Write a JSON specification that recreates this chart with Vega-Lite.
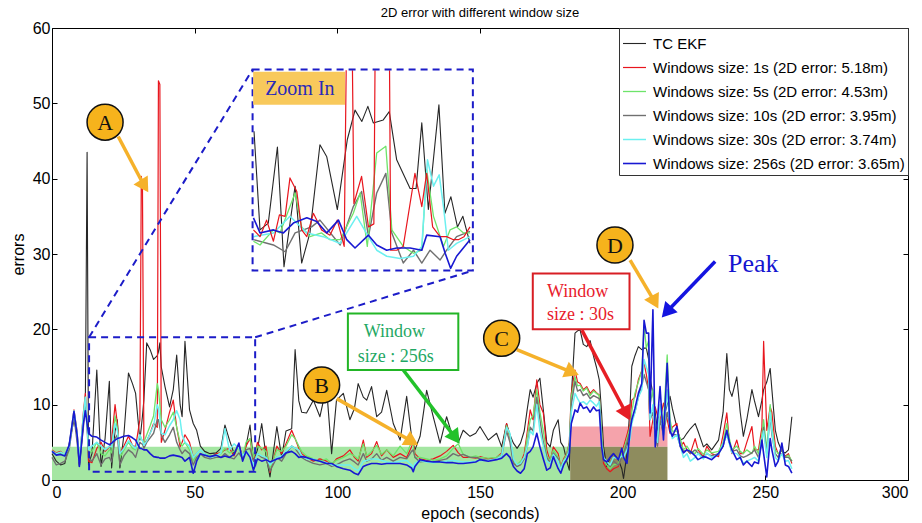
{
  "$schema": "https://vega.github.io/schema/vega-lite/v6.json",
  "width": 856,
  "height": 452,
  "autosize": {"type": "none"},
  "padding": {"left": 52, "top": 28, "right": 14, "bottom": 43},
  "background": "#ffffff",
  "title": {"text": "2D error with different window size", "fontSize": 13, "font": "Liberation Sans", "fontWeight": "normal", "offset": 0, "color": "#000"},
  "config": {
    "view": {"stroke": "#000", "strokeWidth": 1},
    "axis": {"labelFont": "Liberation Sans", "titleFont": "Liberation Sans", "labelFontSize": 16, "titleFontSize": 16, "titleFontWeight": "normal", "labelColor": "#000", "titleColor": "#000", "tickColor": "#000", "domain": false, "grid": false}
  },
  "datasets": {
    "main": [
      {"t":0,"ekf":3.5,"w1":4.0,"w5":3.9,"w10":3.0,"w30":3.8,"w256":3.8},
      {"t":1.5,"ekf":2.5,"w1":3.6,"w5":3.4,"w10":2.0,"w30":3.5,"w256":3.3},
      {"t":3,"ekf":2.0,"w1":3.8,"w5":3.6,"w10":2.2,"w30":3.7,"w256":3.4},
      {"t":4.5,"ekf":2.2,"w1":3.3,"w5":3.2,"w10":2.5,"w30":3.4,"w256":3.2},
      {"t":6,"ekf":4.8,"w1":4.5,"w5":4.2,"w10":4.0,"w30":4.4,"w256":4.6},
      {"t":7.7,"ekf":8.0,"w1":9.3,"w5":9.0,"w10":8.5,"w30":9.2,"w256":9.1},
      {"t":8.8,"ekf":6.0,"w1":6.5,"w5":6.0,"w10":5.0,"w30":6.2,"w256":6.0},
      {"t":9.6,"ekf":1.8,"w1":2.2,"w5":2.5,"w10":2.0,"w30":2.4,"w256":1.8},
      {"t":11,"ekf":7.5,"w1":9.0,"w5":8.5,"w10":7.0,"w30":8.5,"w256":7.5},
      {"t":11.7,"ekf":11.1,"w1":11.5,"w5":11.0,"w10":10.0,"w30":11.0,"w256":9.2},
      {"t":12.3,"ekf":43.5,"w1":8.0,"w5":7.5,"w10":7.0,"w30":7.5,"w256":7.5},
      {"t":12.8,"ekf":2.0,"w1":2.5,"w5":3.5,"w10":3.0,"w30":4.0,"w256":6.2},
      {"t":14,"ekf":3.5,"w1":2.3,"w5":3.8,"w10":2.5,"w30":4.5,"w256":5.8},
      {"t":15.7,"ekf":14.6,"w1":4.2,"w5":5.0,"w10":3.5,"w30":5.0,"w256":5.7},
      {"t":17.2,"ekf":1.8,"w1":5.0,"w5":3.5,"w10":2.0,"w30":4.5,"w256":5.3},
      {"t":18.6,"ekf":5.5,"w1":3.8,"w5":3.2,"w10":2.8,"w30":4.0,"w256":5.0},
      {"t":20.1,"ekf":13.1,"w1":4.4,"w5":4.0,"w10":3.0,"w30":4.5,"w256":4.7},
      {"t":20.9,"ekf":1.6,"w1":5.2,"w5":3.6,"w10":2.4,"w30":4.4,"w256":4.9},
      {"t":22.1,"ekf":6.5,"w1":10.0,"w5":8.5,"w10":5.5,"w30":7.5,"w256":5.3},
      {"t":22.9,"ekf":8.0,"w1":7.5,"w5":7.0,"w10":6.0,"w30":6.5,"w256":5.5},
      {"t":23.8,"ekf":1.6,"w1":3.5,"w5":3.0,"w10":2.0,"w30":3.5,"w256":5.6},
      {"t":25.2,"ekf":6.0,"w1":4.5,"w5":4.0,"w10":3.2,"w30":4.2,"w256":5.8},
      {"t":26.8,"ekf":14.2,"w1":5.8,"w5":5.0,"w10":4.0,"w30":5.2,"w256":5.9},
      {"t":28.2,"ekf":12.8,"w1":4.6,"w5":4.2,"w10":3.6,"w30":4.6,"w256":5.6},
      {"t":29.3,"ekf":11.5,"w1":4.4,"w5":4.0,"w10":3.0,"w30":4.2,"w256":5.3},
      {"t":30.8,"ekf":5.3,"w1":8.0,"w5":6.0,"w10":5.0,"w30":6.0,"w256":4.2},
      {"t":31.3,"ekf":7.0,"w1":40.3,"w5":5.5,"w10":4.8,"w30":5.4,"w256":4.2},
      {"t":31.7,"ekf":8.5,"w1":39.0,"w5":5.2,"w10":4.8,"w30":5.2,"w256":4.1},
      {"t":32.2,"ekf":10.6,"w1":5.0,"w5":5.0,"w10":4.2,"w30":4.6,"w256":4.0},
      {"t":33.2,"ekf":18.2,"w1":5.2,"w5":6.0,"w10":5.0,"w30":5.2,"w256":4.0},
      {"t":34.4,"ekf":17.3,"w1":6.2,"w5":7.2,"w10":5.6,"w30":6.2,"w256":3.5},
      {"t":35.6,"ekf":16.0,"w1":7.5,"w5":8.5,"w10":6.2,"w30":7.2,"w256":3.1},
      {"t":36.9,"ekf":16.5,"w1":7.0,"w5":12.8,"w10":8.0,"w30":10.0,"w256":3.0},
      {"t":37.3,"ekf":17.0,"w1":53.0,"w5":12.0,"w10":8.0,"w30":9.5,"w256":3.0},
      {"t":37.8,"ekf":18.2,"w1":52.5,"w5":10.0,"w10":7.0,"w30":8.2,"w256":2.9},
      {"t":38.3,"ekf":15.0,"w1":5.0,"w5":8.0,"w10":6.0,"w30":6.2,"w256":2.9},
      {"t":39.6,"ekf":12.4,"w1":6.6,"w5":7.0,"w10":5.0,"w30":6.0,"w256":2.9},
      {"t":41.2,"ekf":9.7,"w1":9.0,"w5":8.0,"w10":6.0,"w30":7.2,"w256":3.2},
      {"t":42.5,"ekf":12.0,"w1":10.6,"w5":9.0,"w10":7.0,"w30":8.0,"w256":3.3},
      {"t":43.7,"ekf":16.6,"w1":7.0,"w5":7.0,"w10":5.0,"w30":9.2,"w256":3.2},
      {"t":44.9,"ekf":10.0,"w1":4.4,"w5":5.0,"w10":4.0,"w30":8.0,"w256":3.1},
      {"t":45.6,"ekf":8.4,"w1":5.0,"w5":4.5,"w10":3.5,"w30":6.0,"w256":3.0},
      {"t":46.6,"ekf":18.4,"w1":6.0,"w5":5.0,"w10":4.0,"w30":5.0,"w256":2.5},
      {"t":48.2,"ekf":9.3,"w1":5.0,"w5":4.0,"w10":3.5,"w30":4.5,"w256":3.0},
      {"t":49.5,"ekf":7.5,"w1":3.0,"w5":2.5,"w10":2.0,"w30":3.0,"w256":0.9},
      {"t":50.7,"ekf":6.6,"w1":3.5,"w5":3.5,"w10":3.0,"w30":3.5,"w256":2.5},
      {"t":52,"ekf":4.5,"w1":4.0,"w5":4.0,"w10":3.5,"w30":4.0,"w256":3.5},
      {"t":53.5,"ekf":3.8,"w1":3.5,"w5":3.5,"w10":3.0,"w30":3.5,"w256":3.3},
      {"t":55.4,"ekf":3.5,"w1":3.0,"w5":3.2,"w10":2.8,"w30":3.0,"w256":3.1},
      {"t":57.5,"ekf":3.6,"w1":3.5,"w5":3.3,"w10":3.0,"w30":3.2,"w256":3.3},
      {"t":59.2,"ekf":4.2,"w1":3.6,"w5":3.5,"w10":3.0,"w30":3.6,"w256":3.0},
      {"t":60.6,"ekf":7.3,"w1":4.0,"w5":4.2,"w10":3.5,"w30":6.8,"w256":3.2},
      {"t":62.2,"ekf":5.3,"w1":4.2,"w5":3.6,"w10":3.0,"w30":4.0,"w256":3.0},
      {"t":63.8,"ekf":3.5,"w1":3.2,"w5":3.8,"w10":2.8,"w30":4.8,"w256":3.4},
      {"t":65.5,"ekf":4.5,"w1":4.8,"w5":4.2,"w10":3.6,"w30":4.2,"w256":4.9},
      {"t":66.8,"ekf":3.0,"w1":3.0,"w5":3.0,"w10":2.8,"w30":3.2,"w256":2.5},
      {"t":68,"ekf":4.5,"w1":4.5,"w5":5.0,"w10":4.0,"w30":3.8,"w256":3.8},
      {"t":69.4,"ekf":7.3,"w1":5.5,"w5":5.5,"w10":4.2,"w30":3.2,"w256":3.0},
      {"t":70.6,"ekf":2.5,"w1":2.5,"w5":3.0,"w10":2.5,"w30":2.0,"w256":1.3},
      {"t":72,"ekf":4.0,"w1":5.0,"w5":4.5,"w10":3.5,"w30":3.5,"w256":2.8},
      {"t":73.5,"ekf":7.5,"w1":4.0,"w5":4.2,"w10":3.0,"w30":3.2,"w256":2.5},
      {"t":75,"ekf":3.2,"w1":4.5,"w5":3.8,"w10":2.8,"w30":3.0,"w256":2.7},
      {"t":76.4,"ekf":0.4,"w1":1.0,"w5":1.5,"w10":1.2,"w30":2.0,"w256":2.4},
      {"t":78.8,"ekf":7.1,"w1":4.5,"w5":4.0,"w10":3.0,"w30":3.0,"w256":2.8},
      {"t":80.5,"ekf":3.0,"w1":3.5,"w5":3.8,"w10":2.5,"w30":3.2,"w256":3.0},
      {"t":82,"ekf":6.5,"w1":4.8,"w5":4.5,"w10":3.5,"w30":3.8,"w256":3.6},
      {"t":84,"ekf":6.8,"w1":6.6,"w5":6.0,"w10":4.5,"w30":4.5,"w256":3.8},
      {"t":85.2,"ekf":17.3,"w1":5.5,"w5":5.5,"w10":4.2,"w30":4.2,"w256":3.5},
      {"t":86.5,"ekf":10.5,"w1":4.2,"w5":4.5,"w10":3.5,"w30":4.0,"w256":3.0},
      {"t":87.5,"ekf":9.0,"w1":3.5,"w5":3.8,"w10":3.0,"w30":3.2,"w256":3.1},
      {"t":89.2,"ekf":8.9,"w1":3.0,"w5":3.2,"w10":2.6,"w30":2.8,"w256":3.0},
      {"t":91.6,"ekf":10.6,"w1":2.5,"w5":2.8,"w10":2.2,"w30":2.8,"w256":2.7},
      {"t":93.9,"ekf":8.4,"w1":2.8,"w5":2.5,"w10":2.0,"w30":2.5,"w256":2.5},
      {"t":96.2,"ekf":12.4,"w1":2.5,"w5":2.8,"w10":2.2,"w30":2.3,"w256":2.2},
      {"t":98,"ekf":3.5,"w1":2.0,"w5":2.2,"w10":1.8,"w30":2.0,"w256":2.2},
      {"t":99.7,"ekf":10.6,"w1":2.8,"w5":2.6,"w10":2.0,"w30":2.0,"w256":1.8},
      {"t":102.1,"ekf":11.5,"w1":3.2,"w5":3.0,"w10":2.5,"w30":2.0,"w256":1.5},
      {"t":104.4,"ekf":8.0,"w1":4.0,"w5":3.5,"w10":2.8,"w30":2.0,"w256":1.3},
      {"t":106,"ekf":9.5,"w1":3.0,"w5":3.2,"w10":2.4,"w30":1.5,"w256":0.9},
      {"t":107.3,"ekf":12.8,"w1":2.5,"w5":2.8,"w10":2.0,"w30":1.2,"w256":0.7},
      {"t":109.1,"ekf":11.0,"w1":5.3,"w5":4.8,"w10":3.5,"w30":2.5,"w256":1.8},
      {"t":110.3,"ekf":10.6,"w1":3.0,"w5":3.2,"w10":2.5,"w30":2.6,"w256":2.0},
      {"t":112,"ekf":12.4,"w1":3.5,"w5":3.8,"w10":2.8,"w30":2.8,"w256":2.2},
      {"t":113.8,"ekf":8.4,"w1":5.1,"w5":4.6,"w10":3.5,"w30":2.8,"w256":2.2},
      {"t":115.5,"ekf":9.0,"w1":3.2,"w5":3.4,"w10":2.6,"w30":2.6,"w256":2.1},
      {"t":117.3,"ekf":11.9,"w1":4.0,"w5":4.0,"w10":3.0,"w30":2.4,"w256":2.2},
      {"t":119.6,"ekf":7.5,"w1":3.0,"w5":3.2,"w10":2.5,"w30":2.3,"w256":2.2},
      {"t":122,"ekf":5.3,"w1":3.5,"w5":4.5,"w10":3.0,"w30":2.5,"w256":2.2},
      {"t":124.3,"ekf":11.1,"w1":3.0,"w5":3.5,"w10":2.8,"w30":2.6,"w256":2.0},
      {"t":126,"ekf":5.8,"w1":4.4,"w5":5.0,"w10":3.8,"w30":2.0,"w256":1.6},
      {"t":126.6,"ekf":4.8,"w1":5.0,"w5":4.6,"w10":4.0,"w30":1.6,"w256":1.1},
      {"t":127.2,"ekf":4.0,"w1":3.5,"w5":3.0,"w10":3.0,"w30":2.2,"w256":1.8},
      {"t":129,"ekf":5.8,"w1":2.8,"w5":3.0,"w10":2.4,"w30":2.6,"w256":2.7},
      {"t":131.3,"ekf":11.9,"w1":2.6,"w5":2.8,"w10":2.5,"w30":2.4,"w256":2.5},
      {"t":133.6,"ekf":8.4,"w1":2.8,"w5":2.6,"w10":2.4,"w30":2.3,"w256":2.4},
      {"t":136,"ekf":4.9,"w1":3.2,"w5":2.8,"w10":2.6,"w30":2.4,"w256":2.4},
      {"t":138.3,"ekf":8.4,"w1":3.8,"w5":3.2,"w10":2.8,"w30":2.5,"w256":2.3},
      {"t":140.6,"ekf":5.5,"w1":4.6,"w5":4.2,"w10":3.5,"w30":2.6,"w256":2.3},
      {"t":142.4,"ekf":5.0,"w1":3.6,"w5":4.8,"w10":3.2,"w30":2.5,"w256":2.2},
      {"t":144.1,"ekf":6.6,"w1":3.0,"w5":3.4,"w10":3.4,"w30":2.4,"w256":2.2},
      {"t":146.5,"ekf":5.8,"w1":3.0,"w5":3.0,"w10":3.0,"w30":2.4,"w256":2.3},
      {"t":148.5,"ekf":6.2,"w1":2.9,"w5":3.2,"w10":3.0,"w30":2.5,"w256":2.4},
      {"t":150,"ekf":7.1,"w1":3.1,"w5":3.0,"w10":2.8,"w30":2.6,"w256":2.7},
      {"t":152.9,"ekf":5.3,"w1":2.8,"w5":2.9,"w10":2.6,"w30":2.6,"w256":2.5},
      {"t":155.8,"ekf":6.2,"w1":3.0,"w5":3.0,"w10":2.8,"w30":2.8,"w256":2.7},
      {"t":157.6,"ekf":4.4,"w1":3.6,"w5":3.4,"w10":3.2,"w30":3.2,"w256":2.9},
      {"t":159.3,"ekf":7.5,"w1":7.5,"w5":7.2,"w10":6.5,"w30":7.0,"w256":3.5},
      {"t":160.5,"ekf":6.0,"w1":5.5,"w5":5.8,"w10":5.0,"w30":6.2,"w256":3.0},
      {"t":161.7,"ekf":4.9,"w1":2.5,"w5":2.5,"w10":2.2,"w30":2.8,"w256":1.8},
      {"t":163,"ekf":4.2,"w1":1.8,"w5":2.0,"w10":1.8,"w30":2.0,"w256":1.2},
      {"t":164.2,"ekf":4.9,"w1":2.2,"w5":2.5,"w10":2.0,"w30":2.2,"w256":0.9},
      {"t":165.5,"ekf":6.5,"w1":3.5,"w5":3.0,"w10":2.8,"w30":3.0,"w256":1.5},
      {"t":166.6,"ekf":9.5,"w1":6.5,"w5":5.8,"w10":4.5,"w30":4.5,"w256":3.5},
      {"t":167.6,"ekf":12.0,"w1":9.3,"w5":8.0,"w10":7.0,"w30":6.5,"w256":3.8},
      {"t":168.6,"ekf":11.0,"w1":8.0,"w5":8.5,"w10":6.5,"w30":6.0,"w256":4.4},
      {"t":169.9,"ekf":12.8,"w1":13.3,"w5":12.0,"w10":11.0,"w30":10.0,"w256":6.2},
      {"t":171,"ekf":13.5,"w1":10.0,"w5":9.0,"w10":8.0,"w30":6.5,"w256":4.4},
      {"t":172.2,"ekf":9.3,"w1":8.9,"w5":6.5,"w10":5.0,"w30":4.5,"w256":2.8},
      {"t":173.4,"ekf":5.0,"w1":4.0,"w5":3.2,"w10":3.0,"w30":2.5,"w256":1.3},
      {"t":174.6,"ekf":4.4,"w1":2.5,"w5":2.6,"w10":2.2,"w30":2.2,"w256":1.6},
      {"t":175.7,"ekf":6.6,"w1":4.4,"w5":4.0,"w10":3.6,"w30":3.4,"w256":3.1},
      {"t":177.4,"ekf":8.0,"w1":3.5,"w5":3.0,"w10":2.8,"w30":2.5,"w256":1.5},
      {"t":178.3,"ekf":5.0,"w1":1.8,"w5":1.8,"w10":1.5,"w30":1.4,"w256":0.9},
      {"t":179.3,"ekf":4.4,"w1":2.8,"w5":2.6,"w10":2.4,"w30":2.5,"w256":2.0},
      {"t":180.4,"ekf":2.5,"w1":3.5,"w5":3.4,"w10":3.0,"w30":3.0,"w256":2.7},
      {"t":181.3,"ekf":1.3,"w1":5.0,"w5":4.8,"w10":4.2,"w30":4.0,"w256":3.5},
      {"t":182,"ekf":11.1,"w1":11.5,"w5":11.0,"w10":10.0,"w30":9.0,"w256":7.5},
      {"t":183.3,"ekf":19.5,"w1":14.6,"w5":13.7,"w10":13.1,"w30":11.5,"w256":9.3},
      {"t":184.2,"ekf":19.8,"w1":13.0,"w5":12.5,"w10":11.8,"w30":10.8,"w256":9.0},
      {"t":185.1,"ekf":19.9,"w1":12.8,"w5":12.6,"w10":12.0,"w30":10.2,"w256":10.2},
      {"t":186.2,"ekf":18.0,"w1":12.0,"w5":11.8,"w10":11.2,"w30":10.4,"w256":9.5},
      {"t":187.4,"ekf":17.7,"w1":12.4,"w5":12.2,"w10":11.5,"w30":10.0,"w256":9.7},
      {"t":188.6,"ekf":18.5,"w1":11.5,"w5":11.2,"w10":10.8,"w30":10.6,"w256":9.0},
      {"t":189.8,"ekf":16.4,"w1":12.0,"w5":11.8,"w10":11.2,"w30":10.2,"w256":9.7},
      {"t":190.8,"ekf":15.0,"w1":11.6,"w5":11.5,"w10":11.0,"w30":9.8,"w256":9.2},
      {"t":191.8,"ekf":13.3,"w1":11.3,"w5":11.2,"w10":10.8,"w30":10.4,"w256":9.3},
      {"t":192.6,"ekf":9.0,"w1":6.0,"w5":6.5,"w10":5.5,"w30":5.0,"w256":4.5},
      {"t":193.3,"ekf":4.4,"w1":2.2,"w5":2.8,"w10":2.5,"w30":3.0,"w256":2.7},
      {"t":194.4,"ekf":1.8,"w1":1.5,"w5":2.0,"w10":2.5,"w30":2.5,"w256":2.4},
      {"t":195.6,"ekf":3.0,"w1":1.1,"w5":1.5,"w10":1.8,"w30":2.0,"w256":3.0},
      {"t":196.8,"ekf":3.5,"w1":1.5,"w5":2.0,"w10":2.5,"w30":3.0,"w256":3.5},
      {"t":198.5,"ekf":2.7,"w1":1.8,"w5":2.2,"w10":2.0,"w30":2.8,"w256":2.7},
      {"t":199.7,"ekf":1.5,"w1":3.5,"w5":3.5,"w10":3.0,"w30":3.2,"w256":4.2},
      {"t":200.3,"ekf":0.2,"w1":4.4,"w5":4.0,"w10":3.5,"w30":3.0,"w256":3.0},
      {"t":201.5,"ekf":3.5,"w1":6.0,"w5":5.5,"w10":5.0,"w30":4.0,"w256":2.2},
      {"t":202.6,"ekf":10.0,"w1":7.5,"w5":7.0,"w10":6.5,"w30":5.5,"w256":6.6},
      {"t":203.2,"ekf":15.1,"w1":10.6,"w5":9.0,"w10":8.0,"w30":7.5,"w256":8.0},
      {"t":204.3,"ekf":16.5,"w1":11.0,"w5":11.5,"w10":9.0,"w30":9.0,"w256":9.5},
      {"t":205.5,"ekf":17.7,"w1":13.3,"w5":13.0,"w10":11.0,"w30":11.0,"w256":11.5},
      {"t":206.7,"ekf":17.3,"w1":14.5,"w5":14.5,"w10":12.5,"w30":12.0,"w256":12.8},
      {"t":207.5,"ekf":17.5,"w1":15.5,"w5":20.5,"w10":14.0,"w30":16.0,"w256":21.2},
      {"t":208.3,"ekf":17.5,"w1":14.0,"w5":17.5,"w10":13.0,"w30":15.0,"w256":19.5},
      {"t":209.1,"ekf":16.0,"w1":12.0,"w5":18.5,"w10":12.0,"w30":14.0,"w256":19.5},
      {"t":209.6,"ekf":13.5,"w1":5.8,"w5":10.0,"w10":8.0,"w30":8.0,"w256":8.9},
      {"t":210.6,"ekf":11.5,"w1":8.0,"w5":12.0,"w10":9.0,"w30":10.0,"w256":22.6},
      {"t":211.4,"ekf":9.0,"w1":9.7,"w5":7.0,"w10":6.0,"w30":6.0,"w256":4.4},
      {"t":212.2,"ekf":6.6,"w1":8.5,"w5":5.5,"w10":4.5,"w30":5.0,"w256":8.0},
      {"t":213.1,"ekf":7.5,"w1":8.0,"w5":9.5,"w10":8.0,"w30":10.0,"w256":12.4},
      {"t":214.3,"ekf":8.0,"w1":10.2,"w5":7.5,"w10":6.0,"w30":6.0,"w256":5.3},
      {"t":215.6,"ekf":10.0,"w1":8.0,"w5":16.6,"w10":9.0,"w30":12.0,"w256":15.5},
      {"t":216.6,"ekf":11.1,"w1":6.2,"w5":8.0,"w10":7.0,"w30":7.0,"w256":6.5},
      {"t":217.4,"ekf":9.5,"w1":7.0,"w5":6.5,"w10":6.0,"w30":5.5,"w256":5.8},
      {"t":219,"ekf":7.0,"w1":7.5,"w5":6.5,"w10":6.0,"w30":6.0,"w256":7.1},
      {"t":220.2,"ekf":5.3,"w1":4.4,"w5":5.5,"w10":4.5,"w30":4.5,"w256":4.5},
      {"t":221.3,"ekf":5.5,"w1":5.0,"w5":4.0,"w10":3.8,"w30":3.0,"w256":3.6},
      {"t":222.5,"ekf":6.2,"w1":4.0,"w5":4.5,"w10":4.0,"w30":3.5,"w256":4.0},
      {"t":223.7,"ekf":6.8,"w1":3.5,"w5":3.8,"w10":3.5,"w30":2.5,"w256":3.8},
      {"t":225.4,"ekf":7.5,"w1":5.5,"w5":3.5,"w10":4.0,"w30":3.0,"w256":3.2},
      {"t":226.4,"ekf":6.5,"w1":4.0,"w5":4.2,"w10":3.6,"w30":3.5,"w256":2.7},
      {"t":228.3,"ekf":4.4,"w1":3.1,"w5":3.4,"w10":3.0,"w30":2.8,"w256":3.1},
      {"t":229.5,"ekf":4.8,"w1":4.5,"w5":4.0,"w10":3.5,"w30":3.6,"w256":3.0},
      {"t":231.2,"ekf":4.0,"w1":3.5,"w5":3.6,"w10":3.2,"w30":3.0,"w256":2.7},
      {"t":233.6,"ekf":5.3,"w1":3.1,"w5":3.8,"w10":3.5,"w30":3.4,"w256":3.5},
      {"t":235.2,"ekf":9.0,"w1":6.0,"w5":5.0,"w10":4.5,"w30":4.8,"w256":4.5},
      {"t":236.5,"ekf":16.8,"w1":8.9,"w5":7.5,"w10":6.5,"w30":6.0,"w256":6.6},
      {"t":237.4,"ekf":12.0,"w1":5.0,"w5":5.5,"w10":5.0,"w30":4.8,"w256":5.0},
      {"t":238.3,"ekf":11.1,"w1":3.5,"w5":4.0,"w10":3.8,"w30":3.6,"w256":4.0},
      {"t":240,"ekf":13.7,"w1":5.3,"w5":4.5,"w10":4.0,"w30":3.5,"w256":2.7},
      {"t":241.2,"ekf":9.0,"w1":3.5,"w5":3.8,"w10":3.2,"w30":3.0,"w256":3.0},
      {"t":242.3,"ekf":5.8,"w1":3.5,"w5":3.5,"w10":3.0,"w30":2.2,"w256":2.0},
      {"t":243.5,"ekf":8.0,"w1":5.0,"w5":4.0,"w10":3.2,"w30":2.5,"w256":2.5},
      {"t":245.3,"ekf":12.0,"w1":7.1,"w5":3.5,"w10":3.6,"w30":2.8,"w256":1.8},
      {"t":246.2,"ekf":10.5,"w1":4.0,"w5":4.5,"w10":4.0,"w30":3.0,"w256":2.4},
      {"t":247.6,"ekf":8.4,"w1":4.0,"w5":3.5,"w10":3.0,"w30":2.5,"w256":2.2},
      {"t":248.8,"ekf":10.6,"w1":7.0,"w5":6.0,"w10":5.0,"w30":5.5,"w256":5.3},
      {"t":249.4,"ekf":12.0,"w1":18.4,"w5":8.0,"w10":7.0,"w30":6.5,"w256":3.5},
      {"t":250.5,"ekf":13.0,"w1":6.6,"w5":4.0,"w10":3.5,"w30":3.0,"w256":0.4},
      {"t":251.7,"ekf":14.8,"w1":9.7,"w5":10.0,"w10":8.5,"w30":9.0,"w256":5.5},
      {"t":252.3,"ekf":12.0,"w1":9.0,"w5":7.0,"w10":6.0,"w30":6.5,"w256":4.0},
      {"t":253.5,"ekf":6.6,"w1":4.5,"w5":4.0,"w10":3.5,"w30":3.0,"w256":1.8},
      {"t":254.5,"ekf":5.0,"w1":3.5,"w5":3.5,"w10":3.0,"w30":2.6,"w256":2.5},
      {"t":255.8,"ekf":3.8,"w1":3.5,"w5":4.0,"w10":4.2,"w30":3.5,"w256":4.9},
      {"t":257,"ekf":3.6,"w1":3.2,"w5":3.0,"w10":3.0,"w30":2.5,"w256":2.0},
      {"t":258.1,"ekf":4.0,"w1":3.5,"w5":3.3,"w10":3.0,"w30":2.6,"w256":1.8},
      {"t":259.3,"ekf":8.4,"w1":2.2,"w5":2.5,"w10":2.5,"w30":1.5,"w256":0.9}
    ],
    "inset": [
      {"k":"ekf","g":"e","x":70.8,"y":46.3},{"k":"ekf","g":"e","x":72.9,"y":33.2},{"k":"ekf","g":"e","x":75.8,"y":34.1},{"k":"ekf","g":"e","x":79.0,"y":44.2},{"k":"ekf","g":"e","x":81.3,"y":28.3},{"k":"ekf","g":"e","x":85.2,"y":39.0},{"k":"ekf","g":"e","x":87.5,"y":28.8},{"k":"ekf","g":"e","x":90.4,"y":32.8},{"k":"ekf","g":"e","x":93.9,"y":44.5},{"k":"ekf","g":"e","x":96.3,"y":42.9},{"k":"ekf","g":"e","x":100.0,"y":35.9},{"k":"ekf","g":"e","x":103.5,"y":45.2},{"k":"ekf","g":"e","x":106.2,"y":49.1},{"k":"ekf","g":"e","x":108.6,"y":47.6},{"k":"ekf","g":"e","x":110.7,"y":49.6},{"k":"ekf","g":"e","x":112.6,"y":47.4},{"k":"ekf","g":"e","x":116.1,"y":47.8},{"k":"ekf","g":"e","x":118.2,"y":48.9},{"k":"ekf","g":"e","x":120.8,"y":42.5},{"k":"ekf","g":"e","x":125.5,"y":38.7},{"k":"ekf","g":"e","x":127.6,"y":38.7},{"k":"ekf","g":"e","x":129.6,"y":47.4},{"k":"ekf","g":"e","x":131.9,"y":35.9},{"k":"ekf","g":"e","x":135.6,"y":49.8},{"k":"ekf","g":"e","x":137.7,"y":35.4},{"k":"ekf","g":"e","x":139.8,"y":37.6},{"k":"ekf","g":"e","x":142.1,"y":33.6},{"k":"ekf","g":"e","x":144.0,"y":35.0},{"k":"ekf","g":"e","x":146.5,"y":31.4},
      {"k":"w10","g":"g","x":70.6,"y":31.9},{"k":"w10","g":"g","x":77.6,"y":31.2},{"k":"w10","g":"g","x":81.7,"y":30.3},{"k":"w10","g":"g","x":85.2,"y":32.8},{"k":"w10","g":"g","x":88.1,"y":33.2},{"k":"w10","g":"g","x":91.0,"y":33.6},{"k":"w10","g":"g","x":93.9,"y":34.5},{"k":"w10","g":"g","x":101.0,"y":31.2},{"k":"w10","g":"g","x":105.6,"y":36.3},{"k":"w10","g":"g","x":108.5,"y":38.3},{"k":"w10","g":"g","x":110.9,"y":32.3},{"k":"w10","g":"g","x":113.8,"y":38.1},{"k":"w10","g":"g","x":117.0,"y":40.7},{"k":"w10","g":"g","x":119.1,"y":32.8},{"k":"w10","g":"g","x":123.1,"y":28.8},{"k":"w10","g":"g","x":126.7,"y":30.5},{"k":"w10","g":"g","x":129.6,"y":28.8},{"k":"w10","g":"g","x":132.5,"y":30.5},{"k":"w10","g":"g","x":136.0,"y":29.2},{"k":"w10","g":"g","x":138.3,"y":30.5},{"k":"w10","g":"g","x":141.8,"y":32.3},{"k":"w10","g":"g","x":146.5,"y":33.0},
      {"k":"w5","g":"f","x":70.6,"y":31.7},{"k":"w5","g":"f","x":72.9,"y":31.2},{"k":"w5","g":"f","x":77.6,"y":33.2},{"k":"w5","g":"f","x":79.9,"y":32.8},{"k":"w5","g":"f","x":83.4,"y":36.3},{"k":"w5","g":"f","x":85.2,"y":38.1},{"k":"w5","g":"f","x":87.5,"y":33.6},{"k":"w5","g":"f","x":90.4,"y":32.3},{"k":"w5","g":"f","x":94.5,"y":32.8},{"k":"w5","g":"f","x":97.4,"y":31.9},{"k":"w5","g":"f","x":101.0,"y":31.9},{"k":"w5","g":"f","x":105.6,"y":35.4},{"k":"w5","g":"f","x":108.0,"y":38.1},{"k":"w5","g":"f","x":110.5,"y":31.0},{"k":"w5","g":"f","x":113.8,"y":43.4},{"k":"w5","g":"f","x":117.0,"y":44.3},{"k":"w5","g":"f","x":119.1,"y":33.2},{"k":"w5","g":"f","x":123.1,"y":31.0},{"k":"w5","g":"f","x":126.7,"y":30.1},{"k":"w5","g":"f","x":129.6,"y":30.5},{"k":"w5","g":"f","x":131.3,"y":41.2},{"k":"w5","g":"f","x":133.7,"y":35.0},{"k":"w5","g":"f","x":137.2,"y":31.0},{"k":"w5","g":"f","x":139.5,"y":33.2},{"k":"w5","g":"f","x":141.8,"y":33.6},{"k":"w5","g":"f","x":144.2,"y":32.8},{"k":"w5","g":"f","x":146.5,"y":32.8},
      {"k":"w30","g":"c","x":70.6,"y":32.3},{"k":"w30","g":"c","x":77.6,"y":32.8},{"k":"w30","g":"c","x":83.4,"y":35.0},{"k":"w30","g":"c","x":89.3,"y":32.8},{"k":"w30","g":"c","x":95.1,"y":32.3},{"k":"w30","g":"c","x":101.0,"y":31.4},{"k":"w30","g":"c","x":106.8,"y":35.0},{"k":"w30","g":"c","x":110.9,"y":32.3},{"k":"w30","g":"c","x":113.8,"y":30.5},{"k":"w30","g":"c","x":117.3,"y":29.7},{"k":"w30","g":"c","x":122.0,"y":29.4},{"k":"w30","g":"c","x":126.7,"y":29.7},{"k":"w30","g":"c","x":129.6,"y":31.0},{"k":"w30","g":"c","x":131.6,"y":42.5},{"k":"w30","g":"c","x":133.7,"y":39.0},{"k":"w30","g":"c","x":135.7,"y":40.5},{"k":"w30","g":"c","x":137.2,"y":36.3},{"k":"w30","g":"c","x":138.9,"y":30.5},{"k":"w30","g":"c","x":141.8,"y":31.4},{"k":"w30","g":"c","x":146.5,"y":32.3},
      {"k":"w1","g":"r1","x":70.6,"y":33.2},{"k":"w1","g":"r1","x":72.9,"y":32.3},{"k":"w1","g":"r1","x":75.2,"y":34.5},{"k":"w1","g":"r1","x":77.6,"y":31.7},{"k":"w1","g":"r1","x":79.7,"y":35.2},{"k":"w1","g":"r1","x":81.7,"y":35.0},{"k":"w1","g":"r1","x":83.4,"y":40.1},{"k":"w1","g":"r1","x":85.8,"y":38.3},{"k":"w1","g":"r1","x":87.5,"y":33.2},{"k":"w1","g":"r1","x":89.3,"y":32.3},{"k":"w1","g":"r1","x":91.6,"y":35.4},{"k":"w1","g":"r1","x":94.5,"y":33.2},{"k":"w1","g":"r1","x":97.4,"y":32.5},{"k":"w1","g":"r1","x":100.0,"y":34.5},{"k":"w1","g":"r1","x":102.4,"y":31.0},{"k":"w1","g":"r1","x":103.1,"y":54.4},
      {"k":"w1","g":"r2","x":105.3,"y":54.4},{"k":"w1","g":"r2","x":105.8,"y":36.7},{"k":"w1","g":"r2","x":108.5,"y":40.3},{"k":"w1","g":"r2","x":110.9,"y":33.6},{"k":"w1","g":"r2","x":112.8,"y":34.0},{"k":"w1","g":"r2","x":113.2,"y":54.4},
      {"k":"w1","g":"r3","x":118.3,"y":54.4},{"k":"w1","g":"r3","x":118.7,"y":30.5},{"k":"w1","g":"r3","x":120.8,"y":30.5},{"k":"w1","g":"r3","x":123.1,"y":31.0},{"k":"w1","g":"r3","x":125.5,"y":36.7},{"k":"w1","g":"r3","x":127.2,"y":40.7},{"k":"w1","g":"r3","x":129.6,"y":36.3},{"k":"w1","g":"r3","x":131.3,"y":40.7},{"k":"w1","g":"r3","x":133.4,"y":33.6},{"k":"w1","g":"r3","x":136.0,"y":32.3},{"k":"w1","g":"r3","x":138.3,"y":32.3},{"k":"w1","g":"r3","x":140.7,"y":31.9},{"k":"w1","g":"r3","x":142.4,"y":31.9},{"k":"w1","g":"r3","x":144.4,"y":32.3},{"k":"w1","g":"r3","x":146.5,"y":33.6},
      {"k":"w256","g":"b","x":70.6,"y":34.8},{"k":"w256","g":"b","x":72.9,"y":32.8},{"k":"w256","g":"b","x":77.6,"y":33.2},{"k":"w256","g":"b","x":81.1,"y":32.8},{"k":"w256","g":"b","x":84.6,"y":34.1},{"k":"w256","g":"b","x":89.3,"y":34.8},{"k":"w256","g":"b","x":92.8,"y":34.3},{"k":"w256","g":"b","x":96.3,"y":32.8},{"k":"w256","g":"b","x":100.4,"y":34.5},{"k":"w256","g":"b","x":103.3,"y":31.9},{"k":"w256","g":"b","x":106.2,"y":30.8},{"k":"w256","g":"b","x":110.9,"y":32.5},{"k":"w256","g":"b","x":113.8,"y":31.2},{"k":"w256","g":"b","x":117.3,"y":30.5},{"k":"w256","g":"b","x":120.8,"y":30.8},{"k":"w256","g":"b","x":125.5,"y":30.8},{"k":"w256","g":"b","x":129.6,"y":30.5},{"k":"w256","g":"b","x":131.3,"y":32.5},{"k":"w256","g":"b","x":136.0,"y":32.3},{"k":"w256","g":"b","x":137.8,"y":30.1},{"k":"w256","g":"b","x":139.7,"y":28.1},{"k":"w256","g":"b","x":141.8,"y":29.7},{"k":"w256","g":"b","x":146.5,"y":31.9}
    ],
    "arrows": [
      {"id":"A","c":"orange","x":23.2,"y":45.6,"x2":32.4,"y2":39.0,"ang":148},
      {"id":"B","c":"orange","x":99.8,"y":10.8,"x2":126.2,"y2":5.1,"ang":121},
      {"id":"C","c":"orange","x":162.9,"y":17.3,"x2":182.3,"y2":14.3,"ang":113},
      {"id":"D","c":"orange","x":202.6,"y":29.2,"x2":211.3,"y2":23.6,"ang":152},
      {"id":"G","c":"green","x":123.1,"y":14.6,"x2":141.4,"y2":5.6,"ang":144},
      {"id":"R","c":"red","x":185.7,"y":19.9,"x2":201.3,"y2":8.8,"ang":153},
      {"id":"P","c":"blue","x":232.4,"y":29.0,"x2":215.4,"y2":22.3,"ang":222}
    ],
    "circles": [
      {"lab":"A","x":18.6,"y":47.5},
      {"lab":"B","x":94.5,"y":12.6},
      {"lab":"C","x":157.6,"y":18.8},
      {"lab":"D","x":197.3,"y":31.2}
    ]
  },
  "resolve": {"axis": {"x": "independent", "y": "independent"}},
  "layer": [
    {
      "data": {"values": [{"x0":0,"x1":181.6,"y0":0,"y1":4.4}]},
      "mark": {"type": "rect", "color": "#a4e6a2"},
      "encoding": {"x": {"field":"x0","type":"quantitative","axis":null}, "x2": {"field":"x1"}, "y": {"field":"y0","type":"quantitative","axis":null}, "y2": {"field":"y1"}}
    },
    {
      "data": {"values": [{"x0":181.6,"x1":215.7,"y0":4.4,"y1":7.1}]},
      "mark": {"type": "rect", "color": "#f5a3ab"},
      "encoding": {"x": {"field":"x0","type":"quantitative","axis":null}, "x2": {"field":"x1"}, "y": {"field":"y0","type":"quantitative","axis":null}, "y2": {"field":"y1"}}
    },
    {
      "data": {"values": [{"x0":181.6,"x1":215.7,"y0":0,"y1":4.4}]},
      "mark": {"type": "rect", "color": "#8e8c5e"},
      "encoding": {"x": {"field":"x0","type":"quantitative","axis":null}, "x2": {"field":"x1"}, "y": {"field":"y0","type":"quantitative","axis":null}, "y2": {"field":"y1"}}
    },
    {
      "data": {"name": "main"},
      "transform": [{"fold": ["ekf","w1","w5","w10","w30","w256"], "as": ["k","v"]}],
      "mark": {"type": "line", "strokeJoin": "round"},
      "encoding": {
        "x": {"field": "t", "type": "quantitative", "scale": {"domain": [0,300], "nice": false, "zero": false}, "axis": {"orient": "bottom", "values": [0,50,100,150,200,250,300], "title": "epoch (seconds)", "tickSize": -5, "labelPadding": 9, "titlePadding": 5}},
        "y": {"field": "v", "type": "quantitative", "scale": {"domain": [0,60], "nice": false}, "axis": {"orient": "left", "values": [0,10,20,30,40,50,60], "title": "errors", "tickSize": -5, "labelPadding": 7, "titlePadding": 6}},
        "color": {"field": "k", "type": "nominal", "scale": {"domain": ["ekf","w1","w5","w10","w30","w256"], "range": ["#262626","#e8161e","#6ee46a","#707070","#6cf0f0","#1818d2"]},
          "legend": {"title": null, "orient": "top-right", "offset": 0, "padding": 3, "strokeColor": "#333", "fillColor": "#fff", "labelFont": "Liberation Sans", "labelFontSize": 15, "labelColor": "#000", "labelLimit": 400, "labelOffset": 6, "rowPadding": 3, "symbolType": "stroke", "symbolSize": 529, "symbolStrokeWidth": 1.6,
            "labelExpr": "datum.value == 'ekf' ? 'TC EKF' : datum.value == 'w1' ? 'Windows size: 1s (2D error: 5.18m)' : datum.value == 'w5' ? 'Windows size: 5s (2D error: 4.53m)' : datum.value == 'w10' ? 'Windows size: 10s (2D error: 3.95m)' : datum.value == 'w30' ? 'Windows size: 30s (2D error: 3.74m)' : 'Windows size: 256s (2D error: 3.65m)'"}},
        "strokeWidth": {"field": "k", "type": "nominal", "scale": {"domain": ["ekf","w1","w5","w10","w30","w256"], "range": [1.1,1.6,1.5,1.3,1.5,2.2]}, "legend": null}
      }
    },
    {
      "data": {"name": "inset"},
      "mark": {"type": "line", "strokeJoin": "round"},
      "encoding": {
        "x": {"field": "x", "type": "quantitative", "axis": {"orient": "top", "values": [0,50,100,150,200,250,300], "labels": false, "title": null, "tickSize": -5}},
        "y": {"field": "y", "type": "quantitative", "axis": {"orient": "right", "values": [0,10,20,30,40,50,60], "labels": false, "title": null, "tickSize": -5}},
        "detail": {"field": "g"},
        "color": {"field": "k", "type": "nominal", "scale": {"domain": ["ekf","w1","w5","w10","w30","w256"], "range": ["#262626","#e8161e","#6ee46a","#707070","#6cf0f0","#1818d2"]}, "legend": null},
        "strokeWidth": {"field": "k", "type": "nominal", "scale": {"domain": ["ekf","w1","w5","w10","w30","w256"], "range": [1.1,1.6,1.5,1.3,1.5,2.2]}, "legend": null}
      }
    },
    {
      "data": {"values": [{"x0":70.3,"x1":147.5,"y0":27.8,"y1":54.5},{"x0":13.0,"x1":71.2,"y0":1.1,"y1":18.95}]},
      "mark": {"type": "rect", "fill": null, "fillOpacity": 0, "stroke": "#1c1cc8", "strokeWidth": 2, "strokeDash": [7,5]},
      "encoding": {"x": {"field":"x0","type":"quantitative","axis":null}, "x2": {"field":"x1"}, "y": {"field":"y0","type":"quantitative","axis":null}, "y2": {"field":"y1"}}
    },
    {
      "data": {"values": [{"x0":13.0,"y0":18.95,"x1":70.3,"y1":54.5},{"x0":71.2,"y0":18.95,"x1":147.5,"y1":27.8}]},
      "mark": {"type": "rule", "color": "#1c1cc8", "strokeWidth": 2, "strokeDash": [7,5]},
      "encoding": {"x": {"field":"x0","type":"quantitative","axis":null}, "x2": {"field":"x1"}, "y": {"field":"y0","type":"quantitative","axis":null}, "y2": {"field":"y1"}}
    },
    {
      "data": {"values": [{"x0":70.5,"x1":102.7,"y0":49.8,"y1":54.2}]},
      "mark": {"type": "rect", "color": "#f8c95c"},
      "encoding": {"x": {"field":"x0","type":"quantitative","axis":null}, "x2": {"field":"x1"}, "y": {"field":"y0","type":"quantitative","axis":null}, "y2": {"field":"y1"}}
    },
    {
      "data": {"values": [{"x":74.7,"y":51.1,"txt":"Zoom In"}]},
      "mark": {"type": "text", "align": "left", "baseline": "alphabetic", "font": "Liberation Serif", "fontSize": 20, "color": "#2a2ab8"},
      "encoding": {"x": {"field":"x","type":"quantitative","axis":null}, "y": {"field":"y","type":"quantitative","axis":null}, "text": {"field":"txt"}}
    },
    {
      "data": {"values": [{"x0":103.7,"x1":142.4,"y0":14.6,"y1":22.1}]},
      "mark": {"type": "rect", "fill": "#ffffff", "stroke": "#22b526", "strokeWidth": 2},
      "encoding": {"x": {"field":"x0","type":"quantitative","axis":null}, "x2": {"field":"x1"}, "y": {"field":"y0","type":"quantitative","axis":null}, "y2": {"field":"y1"}}
    },
    {
      "data": {"values": [{"x":120,"y":19.0,"txt":"Window"},{"x":120.5,"y":15.7,"txt":"size : 256s"}]},
      "mark": {"type": "text", "align": "center", "baseline": "alphabetic", "font": "Liberation Serif", "fontSize": 18, "color": "#1fa864"},
      "encoding": {"x": {"field":"x","type":"quantitative","axis":null}, "y": {"field":"y","type":"quantitative","axis":null}, "text": {"field":"txt"}}
    },
    {
      "data": {"values": [{"x0":168.5,"x1":202.4,"y0":20.0,"y1":27.4}]},
      "mark": {"type": "rect", "fill": "#ffffff", "stroke": "#d81e24", "strokeWidth": 2},
      "encoding": {"x": {"field":"x0","type":"quantitative","axis":null}, "x2": {"field":"x1"}, "y": {"field":"y0","type":"quantitative","axis":null}, "y2": {"field":"y1"}}
    },
    {
      "data": {"values": [{"x":184.2,"y":24.3,"txt":"Window"},{"x":185.2,"y":21.3,"txt":"size : 30s"}]},
      "mark": {"type": "text", "align": "center", "baseline": "alphabetic", "font": "Liberation Serif", "fontSize": 18, "color": "#e8202c"},
      "encoding": {"x": {"field":"x","type":"quantitative","axis":null}, "y": {"field":"y","type":"quantitative","axis":null}, "text": {"field":"txt"}}
    },
    {
      "data": {"name": "arrows"},
      "mark": {"type": "rule", "strokeWidth": 3.5},
      "encoding": {"x": {"field":"x","type":"quantitative","axis":null}, "x2": {"field":"x2"}, "y": {"field":"y","type":"quantitative","axis":null}, "y2": {"field":"y2"},
        "stroke": {"field": "c", "type": "nominal", "scale": {"domain": ["orange","green","red","blue"], "range": ["#f5b12a","#22c22a","#e61e24","#1414e0"]}, "legend": null}}
    },
    {
      "data": {"name": "arrows"},
      "mark": {"type": "point", "shape": "triangle-up", "filled": true, "size": 280, "opacity": 1},
      "encoding": {"x": {"field":"x2","type":"quantitative","axis":null}, "y": {"field":"y2","type":"quantitative","axis":null},
        "angle": {"field": "ang", "type": "quantitative", "scale": null},
        "fill": {"field": "c", "type": "nominal", "scale": {"domain": ["orange","green","red","blue"], "range": ["#f5b12a","#22c22a","#e61e24","#1414e0"]}, "legend": null}}
    },
    {
      "data": {"name": "circles"},
      "mark": {"type": "point", "shape": "circle", "filled": true, "size": 1296, "fill": "#f6b31c", "stroke": "#111", "strokeWidth": 1.5, "opacity": 1},
      "encoding": {"x": {"field":"x","type":"quantitative","axis":null}, "y": {"field":"y","type":"quantitative","axis":null}}
    },
    {
      "data": {"name": "circles"},
      "mark": {"type": "text", "align": "center", "baseline": "middle", "font": "Liberation Serif", "fontSize": 22, "color": "#111", "dy": 1},
      "encoding": {"x": {"field":"x","type":"quantitative","axis":null}, "y": {"field":"y","type":"quantitative","axis":null}, "text": {"field":"lab"}}
    },
    {
      "data": {"values": [{"x":236.9,"y":27.6,"txt":"Peak"}]},
      "mark": {"type": "text", "align": "left", "baseline": "alphabetic", "font": "Liberation Serif", "fontSize": 26, "color": "#1515d0"},
      "encoding": {"x": {"field":"x","type":"quantitative","axis":null}, "y": {"field":"y","type":"quantitative","axis":null}, "text": {"field":"txt"}}
    }
  ]
}
